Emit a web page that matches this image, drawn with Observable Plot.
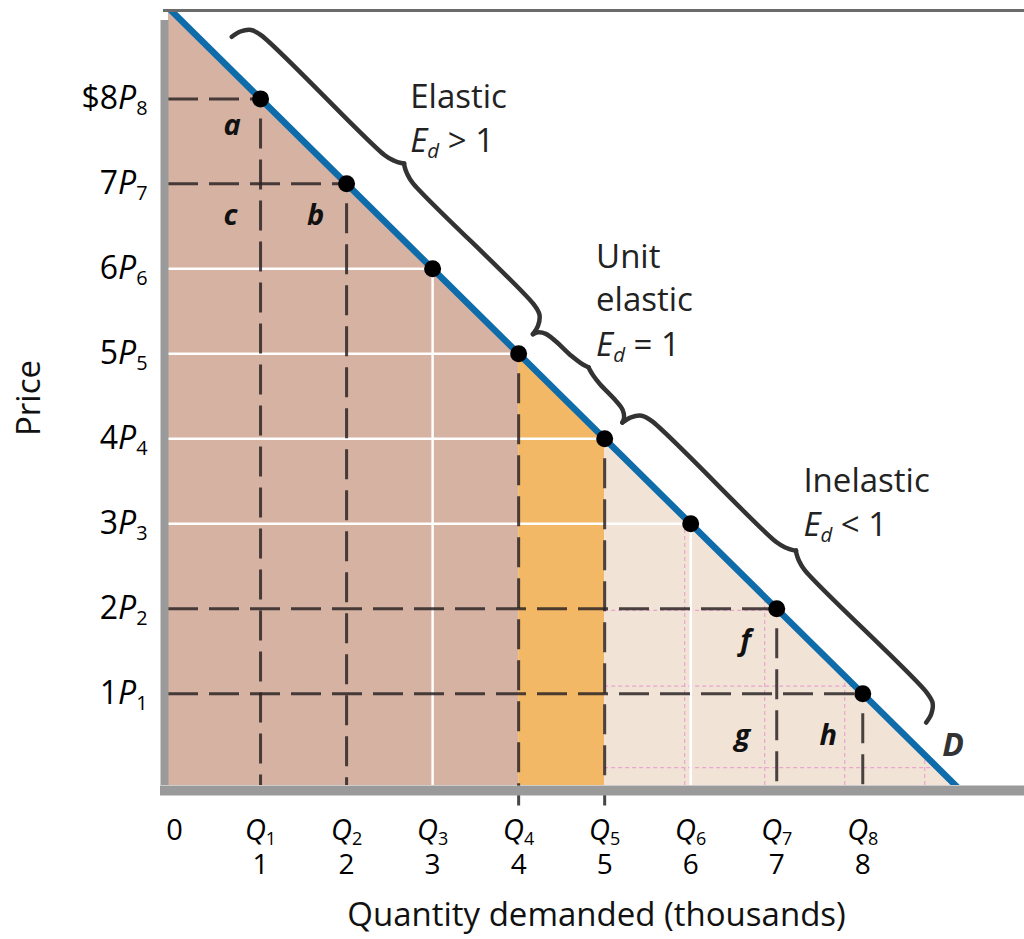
<!DOCTYPE html>
<html><head><meta charset="utf-8">
<script src="https://cdn.jsdelivr.net/npm/d3@7"></script>
<script src="https://cdn.jsdelivr.net/npm/@observablehq/plot@0.6"></script>
<style>body{margin:0;background:#fff} svg{display:block}</style>
</head><body><div id="chart"></div>
<script>
// ---- data ----
const quantities = [1, 2, 3, 4, 5, 6, 7, 8];          // thousands
const prices     = [8, 7, 6, 5, 4, 3, 2, 1];          // dollars
const demandQ = [-0.1, 9.1];                          // demand line D end points
const demandP = [9.1, -0.1];
const xTicks = [0, 1, 2, 3, 4, 5, 6, 7, 8];
const yTicks = [1, 2, 3, 4, 5, 6, 7, 8];
const dashedPriceLevels = [8, 7, 2, 1];
const dashedQuantities = [1, 2, 4, 5, 7, 8];
const extendedQuantities = [4, 5];
const whitePriceLevels = [6, 5, 4, 3];
const whiteQuantities = [3, 6];
const pinkGridQ = [5.93, 6.86, 7.79, 8.72];           // faint dotted grid in the inelastic area
const pinkGridP = [1.98, 1.09, 0.13];
const regionBreaks = [-0.1, 4, 5, 9.1];               // elastic | unit | inelastic areas
const regionColors = ["#d6b2a2", "#f3b866", "#f1e3d6"];
const braceRanges = [[0.47, 3.97], [3.97, 5.01], [5.01, 8.54]];
const areaLetters = ["a", "c", "b", "f", "g", "h"];
const areaLetterQ = [0.67, 0.65, 1.64, 6.64, 6.6, 7.6];
const areaLetterP = [7.68, 6.62, 6.62, 1.62, 0.5, 0.5];
const noteLines = ["Elastic", "*E*_*d*_ > 1", "Unit", "elastic", "*E*_*d*_ = 1", "Inelastic", "*E*_*d*_ < 1"];
const noteQ = [2.74, 2.74, 4.9, 4.9, 4.9, 7.31, 7.31];
const noteP = [8.02, 7.5, 6.13, 5.63, 5.1, 3.5, 2.98];

// ---- layout ----
const W = 1024, H = 939, mL = 168, mR = 0, mT = 10, mB = 154;
const xDomain = [-0.07, 9.88], yDomain = [-0.08, 9.04];
const xMin = xDomain[0], xMax = xDomain[1], yMin = yDomain[0], yMax = yDomain[1];
const font = "'Open Sans', 'DejaVu Sans', sans-serif";

const points = quantities.map((q, i) => ({q, p: prices[i]}));
const demand = demandQ.map((q, i) => ({q, p: demandP[i]}));
const demandAt = d3.scaleLinear(demandQ, demandP);
const quantityAt = d3.scaleLinear(demandP, demandQ);
const regions = regionColors.map((c, i) => [regionBreaks[i], regionBreaks[i + 1]]
  .map(q => ({q, p: demandAt(q), region: i})));
const letters = areaLetters.map((t, i) => ({t, q: areaLetterQ[i], p: areaLetterP[i]}));
const notes = noteLines.map((t, i) => ({t, q: noteQ[i], p: noteP[i]}));

// brace shapes (annotation geometry, laid along the demand line)
const sx = d3.scaleLinear(xDomain, [mL, W - mR]);
const sy = d3.scaleLinear(yDomain, [H - mB, mT]);
const braces = [];
braceRanges.forEach(([q0, q1], bi) => {
  const a = [sx(q0), sy(demandAt(q0))], b = [sx(q1), sy(demandAt(q1))];
  const L = Math.hypot(b[0] - a[0], b[1] - a[1]);
  const ux = (b[0] - a[0]) / L, uy = (b[1] - a[1]) / L;
  const nx = uy, ny = -ux;
  const tip = 24, cusp = Math.min(55, 22 + 0.14 * L), body = tip + (cusp - tip) * 0.7;
  const Hh = L / 2, h = Math.min(20, Hh * 0.35);
  const half = [[0, tip], [h * 0.12, tip + (body - tip) * 0.45], [h * 0.45, tip + (body - tip) * 0.85], [h, body],
                [Hh - h, body + (cusp - body) * 0.15], [Hh - h * 0.45, body + (cusp - body) * 0.45], [Hh - h * 0.12, body + (cusp - body) * 0.8], [Hh, cusp]];
  const halves = [half, half.map(([u, s]) => [L - u, s])];
  halves.forEach((pts, hi) => pts.forEach(([u, s]) => {
    const px = a[0] + ux * u + nx * s, py = a[1] + uy * u + ny * s;
    braces.push({q: sx.invert(px), p: sy.invert(py), id: bi * 2 + hi});
  }));
});

const dashColor = "#2b2424";
const plot = Plot.plot({
  width: W, height: H,
  marginLeft: mL, marginRight: mR, marginTop: mT, marginBottom: mB,
  x: {domain: xDomain, label: null},
  y: {domain: yDomain, label: null},
  style: {fontFamily: font, color: "black", background: "white", overflow: "visible"},
  marks: [
    ...regions.map((r, i) => Plot.areaY(r, {x: "q", y1: () => yMin, y2: "p", fill: regionColors[i], clip: true})),
    Plot.ruleX(pinkGridQ, {x: d => d, y1: () => yMin, y2: d => demandAt(d), stroke: "#e9a6cf", strokeWidth: 1.2, strokeDasharray: "4,3"}),
    Plot.ruleY(pinkGridP, {y: d => d, x1: () => regionBreaks[2], x2: d => quantityAt(d), stroke: "#e9a6cf", strokeWidth: 1.2, strokeDasharray: "4,3"}),
    Plot.ruleY(points.filter(d => whitePriceLevels.includes(d.p)), {y: "p", x1: () => xMin, x2: "q", stroke: "white", strokeWidth: 2.5}),
    Plot.ruleX(points.filter(d => whiteQuantities.includes(d.q)), {x: "q", y1: () => yMin, y2: "p", stroke: "white", strokeWidth: 2.5}),
    Plot.ruleY(points.filter(d => dashedPriceLevels.includes(d.p)), {y: "p", x1: () => xMin, x2: "q", stroke: dashColor, strokeOpacity: 0.85, strokeWidth: 3, strokeDasharray: "30,11"}),
    Plot.ruleX(points.filter(d => dashedQuantities.includes(d.q)), {x: "q", y1: "p", y2: d => extendedQuantities.includes(d.q) ? -0.32 : yMin, insetTop: 20, stroke: dashColor, strokeOpacity: 0.85, strokeWidth: 3, strokeDasharray: "30,11"}),
    Plot.line(demand, {x: "q", y: "p", stroke: "#0f6cab", strokeWidth: 6.5, clip: true}),
    Plot.dot(points, {x: "q", y: "p", r: 8.5, fill: "black"}),
    Plot.line(braces, {x: "q", y: "p", z: "id", curve: "catmull-rom", stroke: "#333", strokeWidth: 4.5, strokeLinecap: "round"}),
    Plot.text(letters, {x: "q", y: "p", text: "t", fontSize: 29, fontWeight: "bold", fontStyle: "italic", fill: "#111"}),
    Plot.text(["D"], {x: () => 9.05, y: () => 0.39, text: d => d, fontSize: 32, fontWeight: "bold", fontStyle: "italic", fill: "#333"}),
    Plot.text(notes, {x: "q", y: "p", text: "t", textAnchor: "start", fontSize: 33, fill: "#222"}),
    // frame
    Plot.ruleY([yMax], {y: d => d, x1: () => xMin, x2: () => xMax, insetLeft: -5, stroke: "#6b6b6b", strokeWidth: 3}),
    Plot.ruleX([xMin], {x: d => d, y1: () => yMin, y2: () => yMax, dx: -4, insetBottom: -10, stroke: "#9a9a9a", strokeWidth: 8}),
    Plot.ruleY([yMin], {y: d => d, x1: () => xMin, x2: () => xMax, dy: 5, insetLeft: -8, stroke: "#9a9a9a", strokeWidth: 10}),
    // axes
    Plot.axisY(yTicks, {tickFormat: d => (d === 8 ? "$8" : String(d)) + "*P*_" + d + "_", tickSize: 0, tickPadding: 21, fontSize: 32}),
    Plot.axisX(xTicks, {tickFormat: d => d === 0 ? "0" : "*Q*_" + d + "_", tickSize: 0, tickPadding: 34, fontSize: 29}),
    Plot.axisX(quantities, {tickFormat: d => String(d), tickSize: 0, tickPadding: 69, fontSize: 28}),
    Plot.text(["Quantity demanded (thousands)"], {frameAnchor: "bottom", text: d => d, dy: 130, lineAnchor: "middle", fontSize: 33, fill: "#111"}),
    Plot.text(["Price"], {frameAnchor: "left", text: d => d, dx: -139, dy: 0, textAnchor: "middle", rotate: -90, fontSize: 33, fill: "#111"})
  ]
});

// rich text: *italic*, _subscript_
const NS = "http://www.w3.org/2000/svg";
plot.querySelectorAll("text").forEach(el => {
  const s = el.textContent;
  if (!/[*_]/.test(s)) return;
  const parts = s.split(/(_\*?[^_*]+\*?_|\*[^*]+\*)/).filter(x => x);
  while (el.firstChild) el.removeChild(el.firstChild);
  let shifted = false;
  for (const part of parts) {
    const t = document.createElementNS(NS, "tspan");
    let c = part, italic = false, sub = false;
    if (c.startsWith("_")) { sub = true; c = c.slice(1, -1); }
    if (c.startsWith("*")) { italic = true; c = c.slice(1, -1); }
    t.textContent = c;
    if (italic) t.setAttribute("font-style", "italic");
    if (sub) { t.setAttribute("font-size", "0.62em"); t.setAttribute("dy", "0.3em"); shifted = true; }
    else if (shifted) { t.setAttribute("dy", "-0.186em"); shifted = false; }
    el.appendChild(t);
  }
});
document.getElementById("chart").appendChild(plot);
</script>
</body></html>
